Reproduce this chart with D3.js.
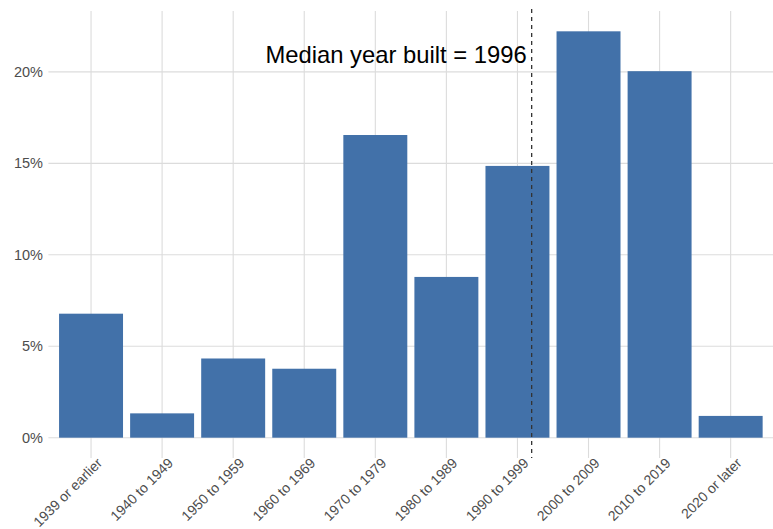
<!DOCTYPE html>
<html>
<head>
<meta charset="utf-8">
<script src="https://cdn.jsdelivr.net/npm/d3@7"></script>
<style>
  html, body { margin: 0; padding: 0; background: #ffffff; }
  svg { display: block; }
</style>
</head>
<body>
<svg id="chart" width="773" height="529"></svg>
<script>
const categories = ["1939 or earlier", "1940 to 1949", "1950 to 1959", "1960 to 1969", "1970 to 1979",
  "1980 to 1989", "1990 to 1999", "2000 to 2009", "2010 to 2019", "2020 or later"];
const shares = [6.78, 1.33, 4.33, 3.77, 16.55, 8.79, 14.86, 22.22, 20.04, 1.19];
const yTicks = [0, 5, 10, 15, 20];
const medianYear = 1996;
const medianCategory = "1990 to 1999";
const medianLabel = "Median year built = " + medianYear;

const W = 773, H = 529;
const panel = { left: 48.4, right: 773.3, top: 11, bottom: 458 };
const svg = d3.select("#chart");

// discrete x scale: 0.6 unit expansion on each side
const xIdx = d3.scaleLinear()
  .domain([-0.6, categories.length - 1 + 0.6])
  .range([panel.left, panel.right]);
const xc = c => xIdx(categories.indexOf(c));
const step = xIdx(1) - xIdx(0);

const ymax = d3.max(shares);
const y = d3.scaleLinear()
  .domain([-ymax * 0.05, ymax * 1.05])
  .range([panel.bottom, panel.top]);

const grid = "#dcdcdc";
// horizontal gridlines
svg.append("g").selectAll("line").data(yTicks).join("line")
  .attr("x1", panel.left).attr("x2", panel.right)
  .attr("y1", d => y(d)).attr("y2", d => y(d))
  .attr("stroke", grid).attr("stroke-width", 1.1);
// vertical gridlines
svg.append("g").selectAll("line").data(categories).join("line")
  .attr("x1", d => xc(d)).attr("x2", d => xc(d))
  .attr("y1", panel.top).attr("y2", panel.bottom)
  .attr("stroke", grid).attr("stroke-width", 1.1);

// bars
const bw = step * 0.9;
svg.append("g").selectAll("rect").data(categories).join("rect")
  .attr("x", (d) => xc(d) - bw / 2)
  .attr("width", bw)
  .attr("y", (d, i) => y(shares[i]))
  .attr("height", (d, i) => y(0) - y(shares[i]))
  .attr("fill", "#4271a9");

// y axis labels
svg.append("g").selectAll("text").data(yTicks).join("text")
  .attr("x", 43).attr("y", d => y(d))
  .attr("dy", "0.35em")
  .attr("text-anchor", "end")
  .attr("font-family", "Liberation Sans, Arial, sans-serif")
  .attr("font-size", 14.5)
  .attr("fill", "#4d4d4d")
  .text(d => d + "%");

// x axis labels, rotated 45
svg.append("g").selectAll("text").data(categories).join("text")
  .attr("transform", d => `translate(${xc(d) + 12},${panel.bottom + 6}) rotate(-45)`)
  .attr("text-anchor", "end")
  .attr("font-family", "Liberation Sans, Arial, sans-serif")
  .attr("font-size", 14)
  .attr("fill", "#4d4d4d")
  .text(d => d);

// median line: position within decade
const decadeStart = 1990;
const mx = xc(medianCategory) - step / 2 + ((medianYear - decadeStart + 1) / 10) * step;
svg.append("line")
  .attr("x1", mx).attr("x2", mx)
  .attr("y1", panel.top - 2).attr("y2", panel.bottom)
  .attr("stroke", "#333333").attr("stroke-width", 1.3)
  .attr("stroke-dasharray", "4,4");

svg.append("text")
  .attr("x", mx - 5).attr("y", 63)
  .attr("text-anchor", "end")
  .attr("font-family", "Liberation Sans, Arial, sans-serif")
  .attr("font-size", 23.8)
  .attr("fill", "#000000")
  .text(medianLabel);
</script>
</body>
</html>
